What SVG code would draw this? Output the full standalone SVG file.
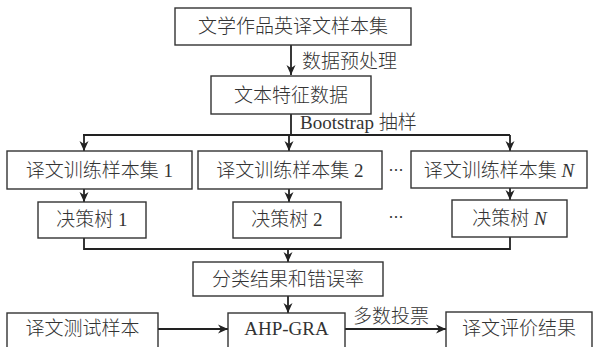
<svg xmlns="http://www.w3.org/2000/svg" width="594" height="347" viewBox="0 0 594 347">
<style>
.box{fill:#fff;stroke:#333;stroke-width:1.4}
.t{font-family:"Liberation Serif","Noto Sans CJK SC",serif;font-size:19px;font-weight:300;fill:#333;text-anchor:middle}
.c{fill:none;stroke:#222;stroke-width:1.8}
.dots{font-family:"Noto Sans CJK SC",sans-serif;font-size:15px;fill:#333;text-anchor:middle}
</style>
<defs>
<marker id="ah" markerUnits="userSpaceOnUse" markerWidth="10" markerHeight="10" viewBox="0 0 10 10" refX="10" refY="5" orient="auto">
<path d="M0,0.5 L10,5 L0,9.5 L3,5 z" fill="#222"/>
</marker>
</defs>
<rect width="594" height="347" fill="#fff"/>
<g id="connectors">
<line class="c" x1="291" y1="45" x2="291" y2="75" marker-end="url(#ah)"/>
<text class="t" x="302" y="68" style="text-anchor:start">数据预处理</text>
<polyline class="c" points="291,114 291,135"/>
<line class="c" x1="83" y1="135" x2="510" y2="135"/>
<line class="c" x1="84" y1="135" x2="84" y2="151" marker-end="url(#ah)"/>
<line class="c" x1="289" y1="135" x2="289" y2="151" marker-end="url(#ah)"/>
<line class="c" x1="510" y1="135" x2="510" y2="151" marker-end="url(#ah)"/>
<text class="t" x="300" y="129" style="text-anchor:start">Bootstrap 抽样</text>
<line class="c" x1="84" y1="189" x2="84" y2="202" marker-end="url(#ah)"/>
<line class="c" x1="289" y1="189" x2="289" y2="202" marker-end="url(#ah)"/>
<line class="c" x1="510" y1="188" x2="510" y2="200" marker-end="url(#ah)"/>
<polyline class="c" points="84,238 84,249 510,249 510,237"/>
<line class="c" x1="288" y1="249" x2="288" y2="262" marker-end="url(#ah)"/>
<line class="c" x1="288" y1="296" x2="288" y2="313" marker-end="url(#ah)"/>
<line class="c" x1="158" y1="329" x2="228" y2="329" marker-end="url(#ah)"/>
<line class="c" x1="345" y1="329" x2="446" y2="329" marker-end="url(#ah)"/>
<text class="t" x="353" y="323" style="text-anchor:start">多数投票</text>
<text class="dots" x="396" y="176">…</text>
<text class="dots" x="396" y="223">…</text>
</g>
<g id="n-corpus"><rect class="box" x="175" y="8" width="236" height="37"/><text class="t" x="293" y="33">文学作品英译文样本集</text></g>
<g id="n-feature"><rect class="box" x="211" y="76" width="160" height="38"/><text class="t" x="291" y="102">文本特征数据</text></g>
<g id="n-train1"><rect class="box" x="7" y="151" width="185" height="38"/><text class="t" x="99.5" y="177">译文训练样本集 1</text></g>
<g id="n-train2"><rect class="box" x="198" y="151" width="184" height="38"/><text class="t" x="290" y="177">译文训练样本集 2</text></g>
<g id="n-trainN"><rect class="box" x="411" y="151" width="176" height="37"/><text class="t" x="499" y="177">译文训练样本集 <tspan font-style="italic">N</tspan></text></g>
<g id="n-tree1"><rect class="box" x="38" y="202" width="108" height="36"/><text class="t" x="92" y="226">决策树 1</text></g>
<g id="n-tree2"><rect class="box" x="233" y="202" width="108" height="36"/><text class="t" x="287" y="226">决策树 2</text></g>
<g id="n-treeN"><rect class="box" x="452" y="200" width="115" height="37"/><text class="t" x="509.5" y="225">决策树 <tspan font-style="italic">N</tspan></text></g>
<g id="n-class"><rect class="box" x="193" y="262" width="190" height="34"/><text class="t" x="288" y="286">分类结果和错误率</text></g>
<g id="n-ahp"><rect class="box" x="228" y="313" width="117" height="40"/><text class="t" x="286.5" y="335">AHP-GRA</text></g>
<g id="n-test"><rect class="box" x="7" y="313" width="151" height="40"/><text class="t" x="82.5" y="335">译文测试样本</text></g>
<g id="n-eval"><rect class="box" x="446" y="312" width="146" height="40"/><text class="t" x="519" y="335">译文评价结果</text></g>
</svg>
